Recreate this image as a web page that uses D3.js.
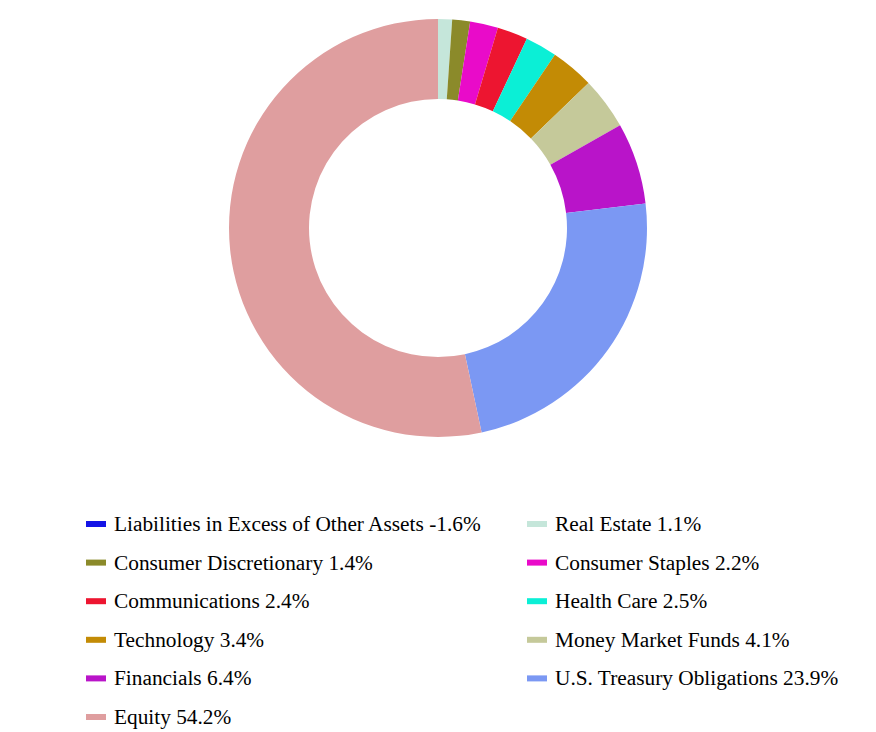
<!DOCTYPE html>
<html>
<head>
<meta charset="utf-8">
<script src="https://cdn.jsdelivr.net/npm/d3@7"></script>
<style>
  body { margin: 0; background: #fff; }
  svg text { font-family: "Liberation Serif", "Times New Roman", serif; }
</style>
</head>
<body>
<svg id="chart" width="876" height="732"></svg>
<script>
const labels = [
  "Liabilities in Excess of Other Assets", "Real Estate", "Consumer Discretionary",
  "Consumer Staples", "Communications", "Health Care", "Technology",
  "Money Market Funds", "Financials", "U.S. Treasury Obligations", "Equity",
];
const values = [ -1.6, 1.1, 1.4, 2.2, 2.4, 2.5, 3.4, 4.1, 6.4, 23.9, 54.2 ];
const colors = [
  "#1414e6", "#c5e6da", "#8b8a2a", "#e90bc9", "#ed1530", "#0befd6",
  "#c38b05", "#c5c99a", "#b914c9", "#7b98f3", "#df9e9f",
];

const svg = d3.select( "#chart" );
const CX = 438;
const CY = 228;
const OUTER = 209;
const INNER = 129;

const items = labels.map( ( l, i ) => ( { label: l, value: values[i], color: colors[i] } ) );

// negative slices can't be drawn, they only show up in the legend
const pie = d3.pie()
  .sort( null )
  .value( d => Math.max( 0, d.value ) );

const arc = d3.arc()
  .innerRadius( INNER )
  .outerRadius( OUTER );

svg.append( "g" )
  .attr( "transform", `translate(${CX},${CY})` )
  .selectAll( "path" )
  .data( pie( items ).filter( d => d.data.value > 0 ) )
  .enter()
  .append( "path" )
  .attr( "d", arc )
  .attr( "fill", d => d.data.color );

// legend, two columns
const colX = [ 86, 527 ];
const rowY = d3.scaleLinear().domain( [ 0, 5 ] ).range( [ 524, 717 ] );

const legend = svg.append( "g" );
const entry = legend.selectAll( "g" )
  .data( items )
  .enter()
  .append( "g" )
  .attr( "transform", ( d, i ) => `translate(${colX[i % 2]},${rowY( Math.floor( i / 2 ) )})` );

entry.append( "rect" )
  .attr( "x", 0 )
  .attr( "y", -3 )
  .attr( "width", 20 )
  .attr( "height", 6 )
  .attr( "fill", d => d.color );

entry.append( "text" )
  .attr( "x", 28 )
  .attr( "y", 7 )
  .attr( "font-size", 21.33 )
  .attr( "fill", "#000" )
  .text( d => `${d.label} ${d.value.toFixed( 1 )}%` );
</script>
</body>
</html>
